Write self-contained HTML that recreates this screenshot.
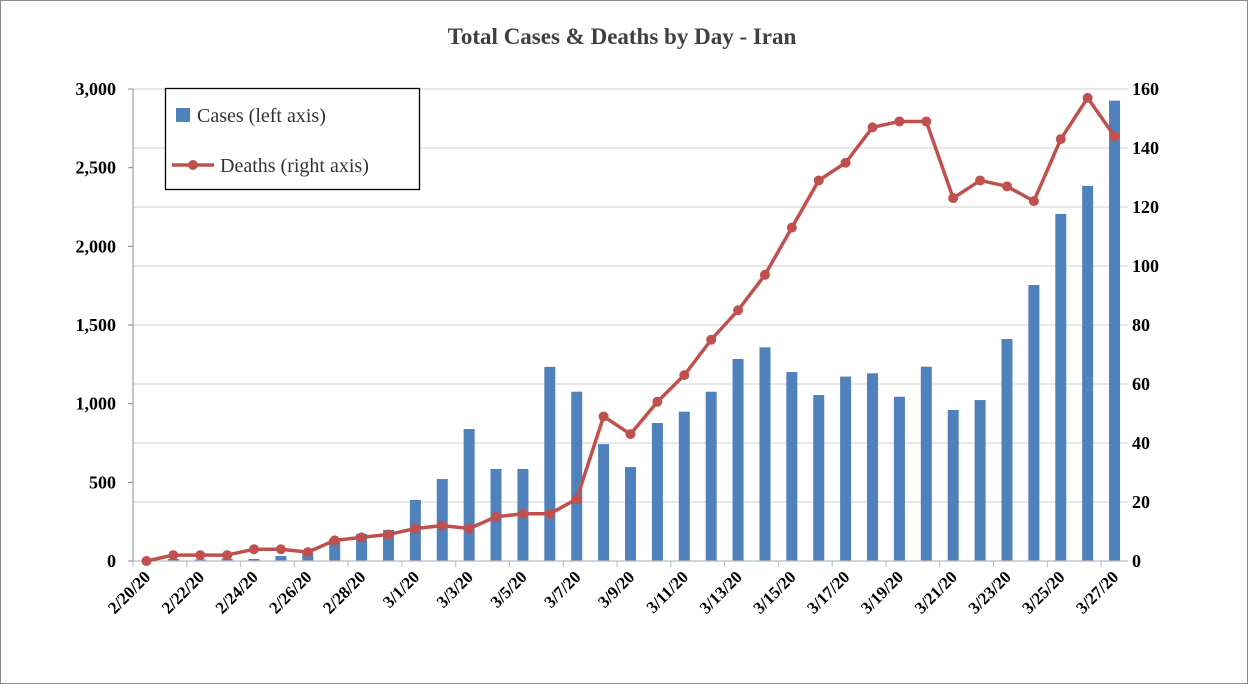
<!DOCTYPE html>
<html><head><meta charset="utf-8"><style>
html,body{margin:0;padding:0;background:#fff;}
svg{display:block;font-family:"Liberation Serif",serif;}
</style></head><body>
<svg id="c" width="1248" height="684">
<rect x="0.5" y="0.5" width="1247" height="683" fill="#fff" stroke="#8c8c8c"/>
<text x="622" y="44" text-anchor="middle" font-size="23" font-weight="bold" fill="#404040">Total Cases &amp; Deaths by Day - Iran</text>
<g id="grid"></g><g id="bars"></g><g id="axes"></g><g id="line"></g>
<g>
<rect x="165.5" y="88.5" width="254" height="101" fill="#fff" stroke="#000" stroke-width="1.3"/>
<rect x="176" y="108" width="14" height="14" fill="#4f81bd"/>
<text x="197" y="122" font-size="20" fill="#333">Cases (left axis)</text>
<line x1="172" y1="165" x2="214" y2="165" stroke="#c0504d" stroke-width="3.5"/>
<circle cx="193" cy="165" r="5" fill="#c0504d"/>
<text x="220" y="172" font-size="20" fill="#333">Deaths (right axis)</text>
</g>
</svg>
<script>
const dates=["2/20/20","2/21/20","2/22/20","2/23/20","2/24/20","2/25/20","2/26/20","2/27/20","2/28/20","2/29/20","3/1/20","3/2/20","3/3/20","3/4/20","3/5/20","3/6/20","3/7/20","3/8/20","3/9/20","3/10/20","3/11/20","3/12/20","3/13/20","3/14/20","3/15/20","3/16/20","3/17/20","3/18/20","3/19/20","3/20/20","3/21/20","3/22/20","3/23/20","3/24/20","3/25/20","3/26/20","3/27/20"];
const cases=[3,13,10,15,13,32,50,140,172,197,388,521,839,585,585,1234,1076,743,597,877,949,1076,1284,1358,1201,1055,1172,1193,1044,1235,960,1023,1411,1754,2206,2384,2926];
const deaths=[0,2,2,2,4,4,3,7,8,9,11,12,11,15,16,16,21,49,43,54,63,75,85,97,113,129,135,147,149,149,123,129,127,122,143,157,144];
const leftTicks=[0,500,1000,1500,2000,2500,3000];
const rightTicks=[0,20,40,60,80,100,120,140,160];
const NS="http://www.w3.org/2000/svg";
const X0=133,X1=1128,Y0=561,Y1=89;
const cw=(X1-X0)/dates.length;
const xc=i=>X0+cw*(i+0.5);
const yL=v=>Y0-(v/3000)*(Y0-Y1);
const yR=v=>Y0-(v/160)*(Y0-Y1);
function mk(tag,attrs,parent){const e=document.createElementNS(NS,tag);for(const k in attrs)e.setAttribute(k,attrs[k]);document.getElementById(parent).appendChild(e);return e;}
rightTicks.forEach(t=>{
 if(t>0){const g=mk('line',{x1:X0,x2:X1,y1:yR(t),y2:yR(t),stroke:'#d9d9d9','stroke-width':1.3},'grid');
 
 }
 const l=mk('text',{x:1132,y:yR(t)+6,'font-size':18,'font-weight':'bold',fill:'#000'},'axes');l.textContent=t;
 
 
});
leftTicks.forEach(t=>{
 const l=mk('text',{x:116,y:yL(t)+6,'font-size':18,'font-weight':'bold','text-anchor':'end',fill:'#000'},'axes');l.textContent=t.toLocaleString('en-US');
 
 
 mk('line',{x1:X0-5,x2:X0,y1:yL(t),y2:yL(t),stroke:'#888'},'axes');
});
mk('line',{x1:X0,x2:X0,y1:Y1,y2:Y0,stroke:'#888'},'axes');
mk('line',{x1:X0,x2:X1,y1:Y0,y2:Y0,stroke:'#bbb','stroke-width':1.3},'axes');
for(let k=0;k<=dates.length;k+=2){mk('line',{x1:X0+cw*k,x2:X0+cw*k,y1:Y0,y2:Y0+6,stroke:'#bbb'},'axes');}
cases.forEach((v,i)=>{
 const b=mk('rect',{x:xc(i)-5.5,y:yL(v),width:11,height:Y0-yL(v),fill:'#4f81bd'},'bars');
 
 
});
dates.forEach((d,i)=>{
 if(i%2)return;
 const x=xc(i)+5,y=Y0+17;
 const t=mk('text',{x:x,y:y,'font-size':17,'font-weight':'bold','text-anchor':'end',fill:'#000',transform:`rotate(-45 ${x} ${y})`},'axes');t.textContent=d;
 
 
});
const p=mk('polyline',{points:deaths.map((v,i)=>xc(i)+','+yR(v)).join(' '),fill:'none',stroke:'#c0504d','stroke-width':3.5,'stroke-linejoin':'round'},'line');


deaths.forEach((v,i)=>{
 const c=mk('circle',{cx:xc(i),cy:yR(v),r:5,fill:'#c0504d'},'line');
 
 
});
</script>
</body></html>
